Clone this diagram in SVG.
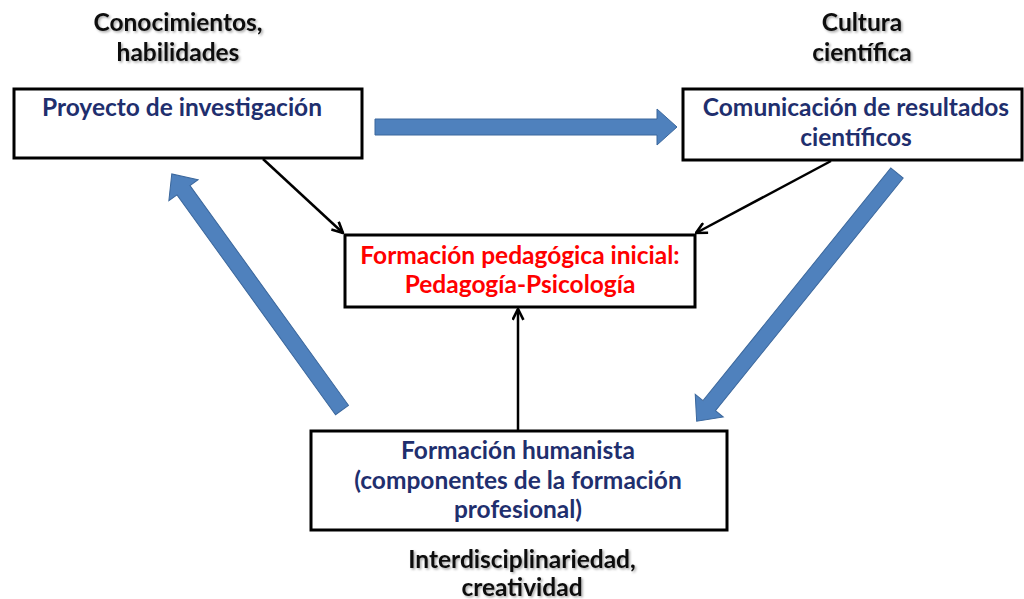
<svg xmlns="http://www.w3.org/2000/svg" width="1024" height="599" viewBox="0 0 1024 599">
<defs>
<style>
.box{fill:#fff;stroke:#000;stroke-width:3}
.t{font-family:Lato,"Open Sans",sans-serif;font-weight:bold;font-size:24.5px;text-anchor:middle}
.blue{fill:#1F2F6E}
.red{fill:#FF0000}
.lbl{fill:#111;filter:url(#sh)}
.blk{fill:#4F81BD;stroke:#3B679C;stroke-width:1}
.ln{stroke:#000;stroke-width:2.5;fill:none;marker-end:url(#ah)}
</style>
<filter id="sh" x="-10%" y="-30%" width="120%" height="160%">
<feDropShadow dx="1.5" dy="1.5" stdDeviation="1" flood-color="#000" flood-opacity="0.35"/>
</filter>
<marker id="ah" viewBox="0 0 12 12" refX="11" refY="6" markerWidth="13" markerHeight="13" markerUnits="userSpaceOnUse" orient="auto">
<path d="M1,1 L11,6 L1,11" fill="none" stroke="#000" stroke-width="2.4"/>
</marker>
</defs>
<rect width="1024" height="599" fill="#fff"/>
<g id="connectors">
<polygon class="blk" transform="translate(375,127)" points="0,-8 282,-8 282,-18 302,0 282,18 282,8 0,8"/>
<polygon class="blk" transform="translate(342,410) rotate(234.2)" points="0,-8 271,-8 271,-18 291,0 271,18 271,8 0,8"/>
<polygon class="blk" transform="translate(897,173) rotate(128.9)" points="0,-8 299,-8 299,-18 319,0 299,18 299,8 0,8"/>
<line class="ln" x1="263" y1="159" x2="343" y2="233"/>
<line class="ln" x1="831" y1="161" x2="696" y2="233"/>
<line class="ln" x1="518" y1="430" x2="518" y2="309"/>
</g>
<g id="label-conocimientos">
<text class="t lbl" x="178" y="31">Conocimientos,</text>
<text class="t lbl" x="178" y="61">habilidades</text>
</g>
<g id="label-cultura">
<text class="t lbl" x="862" y="31">Cultura</text>
<text class="t lbl" x="862" y="61">científica</text>
</g>
<g id="node-proyecto">
<rect class="box" x="14" y="89" width="348" height="69"/>
<text class="t blue" x="182" y="116">Proyecto de investigación</text>
</g>
<g id="node-comunicacion">
<rect class="box" x="683" y="89" width="339" height="71"/>
<text class="t blue" x="856" y="116">Comunicación de resultados</text>
<text class="t blue" x="856" y="146">científicos</text>
</g>
<g id="node-formacion-pedagogica">
<rect class="box" x="345" y="235" width="350" height="72"/>
<text class="t red" x="520" y="264">Formación pedagógica inicial:</text>
<text class="t red" x="520" y="293">Pedagogía-Psicología</text>
</g>
<g id="node-formacion-humanista">
<rect class="box" x="311" y="431" width="416" height="99"/>
<text class="t blue" x="518" y="459">Formación humanista</text>
<text class="t blue" x="518" y="489">(componentes de la formación</text>
<text class="t blue" x="518" y="518">profesional)</text>
</g>
<g id="label-interdisciplinariedad">
<text class="t lbl" x="522" y="568">Interdisciplinariedad,</text>
<text class="t lbl" x="522" y="596">creatividad</text>
</g>
</svg>
